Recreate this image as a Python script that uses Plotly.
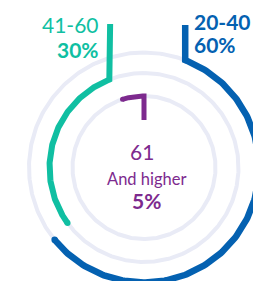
import numpy as np
import plotly.graph_objects as go

# ---- data ----
age_groups = ["20-40", "41-60", "61"]
age_sublabels = ["", "", "And higher"]
shares_pct = [60, 30, 5]

# ---- style ----
colors = ["#0461b1", "#10bfa2", "#7d2a8e"]
track_color = "#e9ebf6"
W, H = 261, 281
cx, cy = 136.0, 159.5
radii = [115.0, 94.5, 71.5]
start_deg = [21.0, -21.0, 0.0]     # where each arc starts (clockwise from 12 o'clock)
direction = [1, -1, -1]            # 1 = clockwise, -1 = counter-clockwise
deg_per_pct = 3.5                  # full track = 350 degrees
widths = [6.5, 6.0, 5.0]
leader_end_y = [17, 16, 112]
FONT = "Lato"

def pt(r, deg):
    a = np.radians(deg)
    return cx + r * np.sin(a), cy - r * np.cos(a)

fig = go.Figure()

# background tracks
for r in radii:
    t = np.linspace(0, 360, 361)
    x, y = pt(r, t)
    fig.add_trace(go.Scatter(x=x, y=y, mode="lines",
                             line=dict(color=track_color, width=4),
                             hoverinfo="skip", showlegend=False))

# value arcs with leader lines
for i, v in enumerate(shares_pct):
    span = v * deg_per_pct
    t = start_deg[i] + direction[i] * np.linspace(0, span, 200)
    ax, ay = pt(radii[i], t)
    sx, sy = pt(radii[i], start_deg[i])
    xs = np.concatenate([[sx], ax])
    ys = np.concatenate([[leader_end_y[i]], ay])
    fig.add_trace(go.Scatter(x=xs, y=ys, mode="lines",
                             line=dict(color=colors[i], width=widths[i]),
                             hoverinfo="skip", showlegend=False))
    # rounded free end
    fig.add_trace(go.Scatter(x=[ax[-1]], y=[ay[-1]], mode="markers",
                             marker=dict(color=colors[i], size=widths[i], line=dict(width=0)),
                             hoverinfo="skip", showlegend=False))

def ann(x, y, text, ci, size, bold=False, xanchor="center"):
    fig.add_annotation(x=x, y=y, text=f"<b>{text}</b>" if bold else text,
                       showarrow=False, xanchor=xanchor, yanchor="middle",
                       font=dict(family=FONT, size=size, color=colors[ci]))

# 20-40
ann(184, 13.5, age_groups[0], 0, 21, bold=True, xanchor="left")
ann(184, 36.5, f"{shares_pct[0]}%", 0, 21, bold=True, xanchor="left")
# 41-60
ann(93, 16.5, age_groups[1], 1, 21, xanchor="right")
ann(93, 41.5, f"{shares_pct[1]}%", 1, 21, bold=True, xanchor="right")
# 61 and higher
ann(134, 143.5, age_groups[2], 2, 21)
ann(138.5, 171, age_sublabels[2], 2, 16.5)
ann(138.5, 192, f"{shares_pct[2]}%", 2, 21, bold=True)

fig.update_layout(
    width=W, height=H, margin=dict(l=0, r=0, t=0, b=0),
    paper_bgcolor="white", plot_bgcolor="white",
    xaxis=dict(range=[0, W], visible=False, fixedrange=True),
    yaxis=dict(range=[H, 0], visible=False, fixedrange=True),
    showlegend=False,
)
fig.write_html("out.html", config={"displayModeBar": False})
